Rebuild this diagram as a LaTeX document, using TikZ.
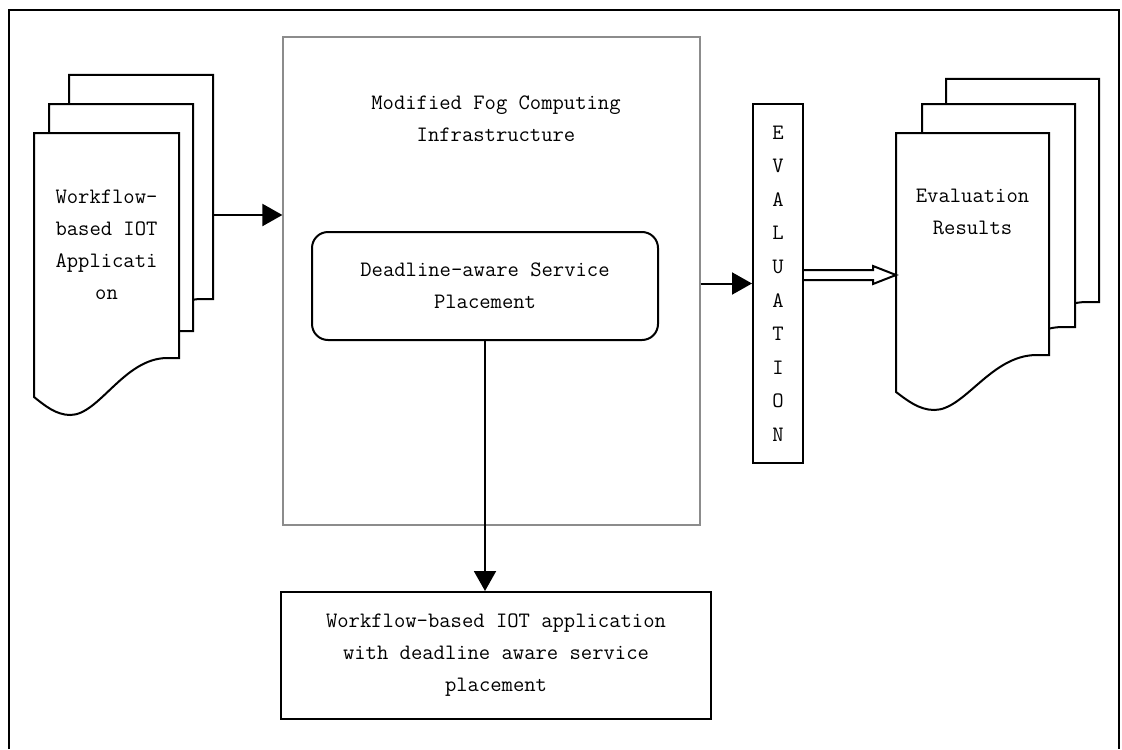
\documentclass[tikz,border=0pt]{standalone}
\usepackage{fontspec}
\usetikzlibrary{arrows.meta,calc}

% a stacked "document" sheet: x, y (top left), width, right height, left height
\newcommand\sheet[5]{%
  \filldraw[sheetline]
    (#1,#2) -- (#1+#3,#2) -- (#1+#3,#2+#4) -- (#1+0.92*#3,#2+#4)
    .. controls (#1+0.62*#3,#2+#4) and (#1+0.45*#3,#2+#5+18) .. (#1+0.25*#3,#2+#5+18)
    .. controls (#1+0.15*#3,#2+#5+18) and (#1+0.07*#3,#2+#5+8) .. (#1,#2+#5) -- cycle;}

\tikzset{
  sheetline/.style={draw=black, fill=white, line width=1pt},
  label/.style={font=\ttfamily\fontsize{11}{16}\selectfont, align=center, inner sep=0pt},
  box/.style={draw=black, line width=1pt, fill=white},
  link/.style={line width=1pt, -{Triangle[length=10pt,width=11pt]}},
}

\begin{document}
\begin{tikzpicture}[x=0.5pt,y=-0.5pt]
\useasboundingbox (0,0) rectangle (1122,749);

% outer frame (open at the bottom)
\draw[line width=1pt] (9,749) -- (9,10) -- (1119,10) -- (1119,749);

% infrastructure container
\node[draw=black!45, line width=0.6pt, minimum width=208.5pt, minimum height=244pt, inner sep=0pt]
  (fog) at (491.5,281) {};
\node[label] (fogtitle) at (496,118.5) {Modified Fog Computing\\Infrastructure};

% placement step
\node[box, rounded corners=8pt, minimum width=173pt, minimum height=54pt, inner sep=0pt]
  (dsp) at (485,286) {};
\node[label] at (dsp.center) {Deadline-aware Service\\Placement};

% result of the placement
\node[box, minimum width=215pt, minimum height=63.5pt, inner sep=0pt]
  (out) at (496,655.5) {};
\node[label] at (out.center) {Workflow-based IOT application\\with deadline aware service\\placement};

% evaluation bar
\node[box, minimum width=25pt, minimum height=179.5pt, inner sep=0pt]
  (ev) at (778,283.5) {};
\node[label, font=\ttfamily\fontsize{11}{16.8}\selectfont] at (ev.center)
  {E\\V\\A\\L\\U\\A\\T\\I\\O\\N};

% input application stack
\sheet{69}{75}{144}{224}{262}
\sheet{49}{104}{144}{227}{263}
\sheet{34}{133}{145}{225}{264}
\node[label] (app) at (106.5,245) {Workflow-\\based IOT\\Applicati\\on};
\coordinate (appR) at (213,215);

% evaluation results stack
\sheet{946}{79}{153}{223}{258}
\sheet{922}{104}{153}{223}{259}
\sheet{896}{133}{153}{222}{259}
\node[label] (res) at (972.5,212) {Evaluation\\Results};
\coordinate (resL) at (896,275);

% connectors
\draw[link] (appR) -- (appR -| fog.west);
\draw[link] (ev.west -| fog.east) -- (ev.west);
\draw[link] (dsp.south) -- (dsp.south |- out.north);

% hollow block arrow from the evaluation bar to the results
\draw[line width=1pt, line join=miter]
  ($(resL -| ev.east)+(0,-5)$) -- ($(resL)+(-23,-5)$) -- ($(resL)+(-23,-9)$) -- (resL)
  -- ($(resL)+(-23,9)$) -- ($(resL)+(-23,5)$) -- ($(resL -| ev.east)+(0,5)$);
\end{tikzpicture}
\end{document}
